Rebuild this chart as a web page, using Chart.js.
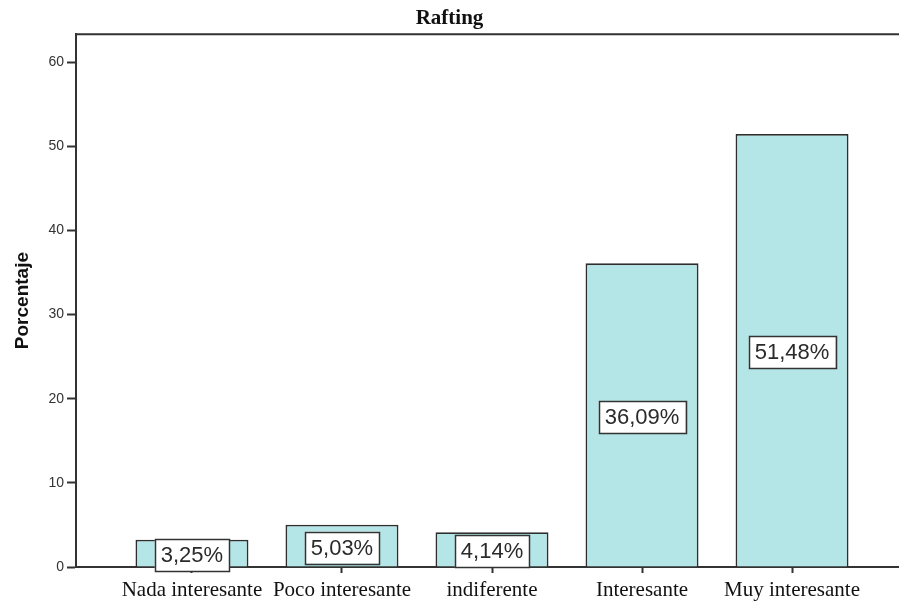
<!DOCTYPE html>
<html>
<head>
<meta charset="utf-8">
<script src="https://cdn.jsdelivr.net/npm/chart.js@4/dist/chart.umd.min.js"></script>
<style>
  html, body { margin: 0; padding: 0; background: #ffffff; }
  #wrap { width: 899px; height: 603px; position: relative; }
</style>
</head>
<body>
<div id="wrap"><canvas id="c"></canvas></div>
<script>
// ---- data ----
const chartTitle = "Rafting";
const categories = ["Nada interesante", "Poco interesante", "indiferente", "Interesante", "Muy interesante"];
const percentages = [3.25, 5.03, 4.14, 36.09, 51.48];
const yTicks = [0, 10, 20, 30, 40, 50, 60];
const yAxisTitle = "Porcentaje";

const points = categories.map((c, i) => ({ x: i, y: percentages[i] }));

const frameColor = "#333333";

const topLinePlugin = {
  id: "topLine",
  afterDraw(chart) {
    const { ctx, chartArea } = chart;
    ctx.save();
    ctx.strokeStyle = frameColor;
    ctx.lineWidth = 2;
    ctx.beginPath();
    ctx.moveTo(chartArea.left, chartArea.top);
    ctx.lineTo(chartArea.right, chartArea.top);
    ctx.stroke();
    ctx.restore();
  }
};

const valueLabelPlugin = {
  id: "valueLabels",
  afterDatasetsDraw(chart) {
    const { ctx } = chart;
    const meta = chart.getDatasetMeta(0);
    ctx.save();
    ctx.font = "22px 'Liberation Sans', Arial, sans-serif";
    ctx.textAlign = "center";
    ctx.textBaseline = "middle";
    meta.data.forEach((bar, i) => {
      const v = percentages[i];
      const txt = v.toFixed(2).replace(".", ",") + "%";
      const props = bar.getProps(["x", "y", "base"], true);
      const cx = props.x;
      const cy = (props.y + props.base) / 2 + 2;
      const w = ctx.measureText(txt).width + 12;
      const h = 32;
      ctx.fillStyle = "#ffffff";
      ctx.fillRect(cx - w / 2, cy - h / 2, w, h);
      ctx.strokeStyle = "#333333";
      ctx.lineWidth = 1.5;
      ctx.strokeRect(Math.round(cx - w / 2) + 0.5, Math.round(cy - h / 2) + 0.5, Math.round(w), h);
      ctx.fillStyle = "#2a2a2a";
      ctx.fillText(txt, cx, cy + 1);
    });
    ctx.restore();
  }
};

new Chart(document.getElementById("c"), {
  type: "bar",
  data: {
    datasets: [{
      data: points,
      backgroundColor: "#b4e6e7",
      borderColor: "#2e2e2e",
      borderWidth: 1.8,
      barPercentage: 0.753,
      categoryPercentage: 1.0
    }]
  },
  options: {
    responsive: true,
    maintainAspectRatio: false,
    animation: false,
    layout: { padding: { left: 0, right: 0, top: 0, bottom: 0 } },
    plugins: {
      legend: { display: false },
      tooltip: { enabled: false },
      title: {
        display: true,
        text: chartTitle,
        color: "#111111",
        font: { family: "'Liberation Serif', 'Times New Roman', serif", size: 21, weight: "bold" },
        padding: { top: 6, bottom: 3 }
      }
    },
    scales: {
      x: {
        type: "linear",
        offset: false,
        min: -0.773,
        max: 4.713,
        afterBuildTicks(scale) { scale.ticks = categories.map((c, i) => ({ value: i })); },
        afterFit(scale) { scale.height = 36; },
        ticks: {
          autoSkip: false,
          maxRotation: 0,
          minRotation: 0,
          padding: 5,
          color: "#111111",
          font: { family: "'Liberation Serif', 'Times New Roman', serif", size: 21 },
          callback: (v) => categories[v] !== undefined ? categories[v] : ""
        },
        grid: { display: true, drawOnChartArea: false, drawTicks: true, tickLength: 6, tickColor: frameColor, tickWidth: 2, offset: false },
        border: { display: true, color: frameColor, width: 2 }
      },
      y: {
        min: 0,
        max: 63.33,
        afterBuildTicks(scale) { scale.ticks = yTicks.map(v => ({ value: v })); },
        afterFit(scale) { scale.width = 76; },
        ticks: {
          padding: 3,
          color: "#333333",
          font: { family: "'Liberation Sans', Arial, sans-serif", size: 14 }
        },
        title: {
          display: true,
          text: yAxisTitle,
          color: "#111111",
          font: { family: "'Liberation Sans', Arial, sans-serif", size: 19, weight: "bold" },
          padding: { top: 11, bottom: 0 }
        },
        grid: { display: true, drawOnChartArea: false, drawTicks: true, tickLength: 9, tickColor: frameColor, tickWidth: 2 },
        border: { display: true, color: frameColor, width: 2 }
      }
    }
  },
  plugins: [topLinePlugin, valueLabelPlugin]
});
</script>
</body>
</html>
